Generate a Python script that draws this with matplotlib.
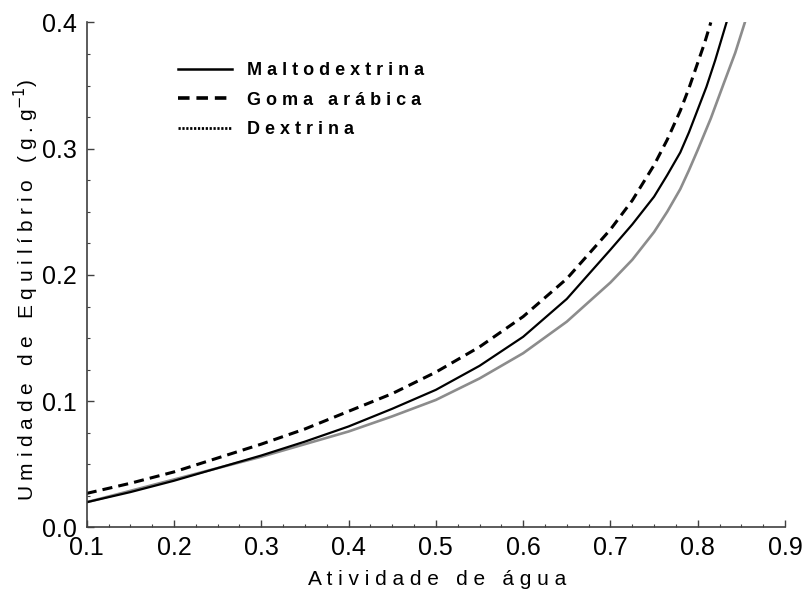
import matplotlib
matplotlib.use('Agg')
import matplotlib.pyplot as plt
from matplotlib.lines import Line2D
from matplotlib.ticker import MultipleLocator, FormatStrFormatter

plt.rcParams['font.family'] = ['Liberation Sans', 'DejaVu Sans']

# -------------------------------------------------------------------------------
# values (water activity vs. equilibrium moisture)

aw_malto = [0.10, 0.15, 0.20, 0.25, 0.30, 0.35, 0.40, 0.45, 0.50, 0.55,
            0.60, 0.65, 0.70, 0.725, 0.75, 0.765, 0.78, 0.79, 0.80, 0.81,
            0.82, 0.833]
x_malto = [0.020, 0.028, 0.037, 0.047, 0.057, 0.068, 0.080, 0.094, 0.109, 0.128,
           0.151, 0.181, 0.220, 0.240, 0.262, 0.279, 0.297, 0.313, 0.331, 0.349,
           0.370, 0.400]

aw_goma = [0.10, 0.15, 0.20, 0.25, 0.30, 0.35, 0.40, 0.45, 0.50, 0.55,
           0.60, 0.65, 0.70, 0.725, 0.75, 0.765, 0.78, 0.79, 0.80, 0.808,
           0.815]
x_goma = [0.027, 0.035, 0.044, 0.055, 0.066, 0.078, 0.092, 0.106, 0.123, 0.143,
          0.167, 0.197, 0.236, 0.259, 0.287, 0.307, 0.330, 0.348, 0.368, 0.384,
          0.400]

aw_dext = [0.10, 0.15, 0.20, 0.25, 0.30, 0.35, 0.40, 0.45, 0.50, 0.55,
           0.60, 0.65, 0.70, 0.725, 0.75, 0.765, 0.78, 0.79, 0.80, 0.815,
           0.83, 0.843, 0.854]
x_dext = [0.020, 0.029, 0.038, 0.047, 0.056, 0.066, 0.076, 0.088, 0.101, 0.118,
          0.138, 0.163, 0.194, 0.212, 0.234, 0.250, 0.268, 0.283, 0.299, 0.324,
          0.352, 0.376, 0.400]

LABELS = ['Maltodextrina', 'Goma arábica', 'Dextrina']

# -------------------------------------------------------------------------------

def spaced(s):
    return ' '.join(s)

fig = plt.figure(figsize=(8.03, 5.96), dpi=100)
ax = fig.add_axes([0.108, 0.115, 0.8696, 0.8474])

ax.plot(aw_dext, x_dext, color='#8c8c8c', lw=1.9)
ax.plot(aw_malto, x_malto, color='black', lw=1.6)
ax.plot(aw_goma, x_goma, color='black', lw=2.2, dashes=(3.3, 2.0))

ax.set_xlim(0.1, 0.9)
ax.set_ylim(0.0, 0.4)
ax.xaxis.set_major_locator(MultipleLocator(0.1))
ax.xaxis.set_minor_locator(MultipleLocator(0.025))
ax.yaxis.set_major_locator(MultipleLocator(0.1))
ax.yaxis.set_minor_locator(MultipleLocator(0.025))
ax.xaxis.set_major_formatter(FormatStrFormatter('%.1f'))
ax.yaxis.set_major_formatter(FormatStrFormatter('%.1f'))

for side in ['top', 'right']:
    ax.spines[side].set_visible(False)
for side in ['left', 'bottom']:
    ax.spines[side].set_color('#404040')
    ax.spines[side].set_linewidth(1.2)

ax.tick_params(which='major', direction='in', length=5, width=1, color='#404040')
ax.tick_params(which='minor', direction='in', length=2.5, width=0.8, color='#404040')
ax.tick_params(axis='y', labelsize=18, pad=7)
ax.tick_params(axis='x', labelsize=18, pad=6)

ax.set_xlabel(spaced('Atividade de água'), fontsize=15, va='center')
ax.xaxis.set_label_coords(0.502, -0.104)
ax.set_ylabel(spaced('Umidade de Equilíbrio (g.g') + r'$^{-1}$' + ')',
              fontsize=15, va='center')
ax.yaxis.set_label_coords(-0.087, 0.47)

# legend keys: the Dextrina key is dotted although its curve is drawn grey
handles = [Line2D([], [], color='black', lw=1.8),
           Line2D([], [], color='black', lw=2.6, dashes=(3.2, 1.9)),
           Line2D([], [], color='black', lw=2.0, dashes=(0.8, 0.6))]
leg = ax.legend(handles, [spaced(l) for l in LABELS], loc='upper left',
                bbox_to_anchor=(0.1307, 0.921), borderaxespad=0, borderpad=0,
                frameon=False, handlelength=3.0, handletextpad=0.83,
                labelspacing=0.69, prop={'weight': 'bold', 'size': 13})

plt.savefig('out.png', dpi=100)
